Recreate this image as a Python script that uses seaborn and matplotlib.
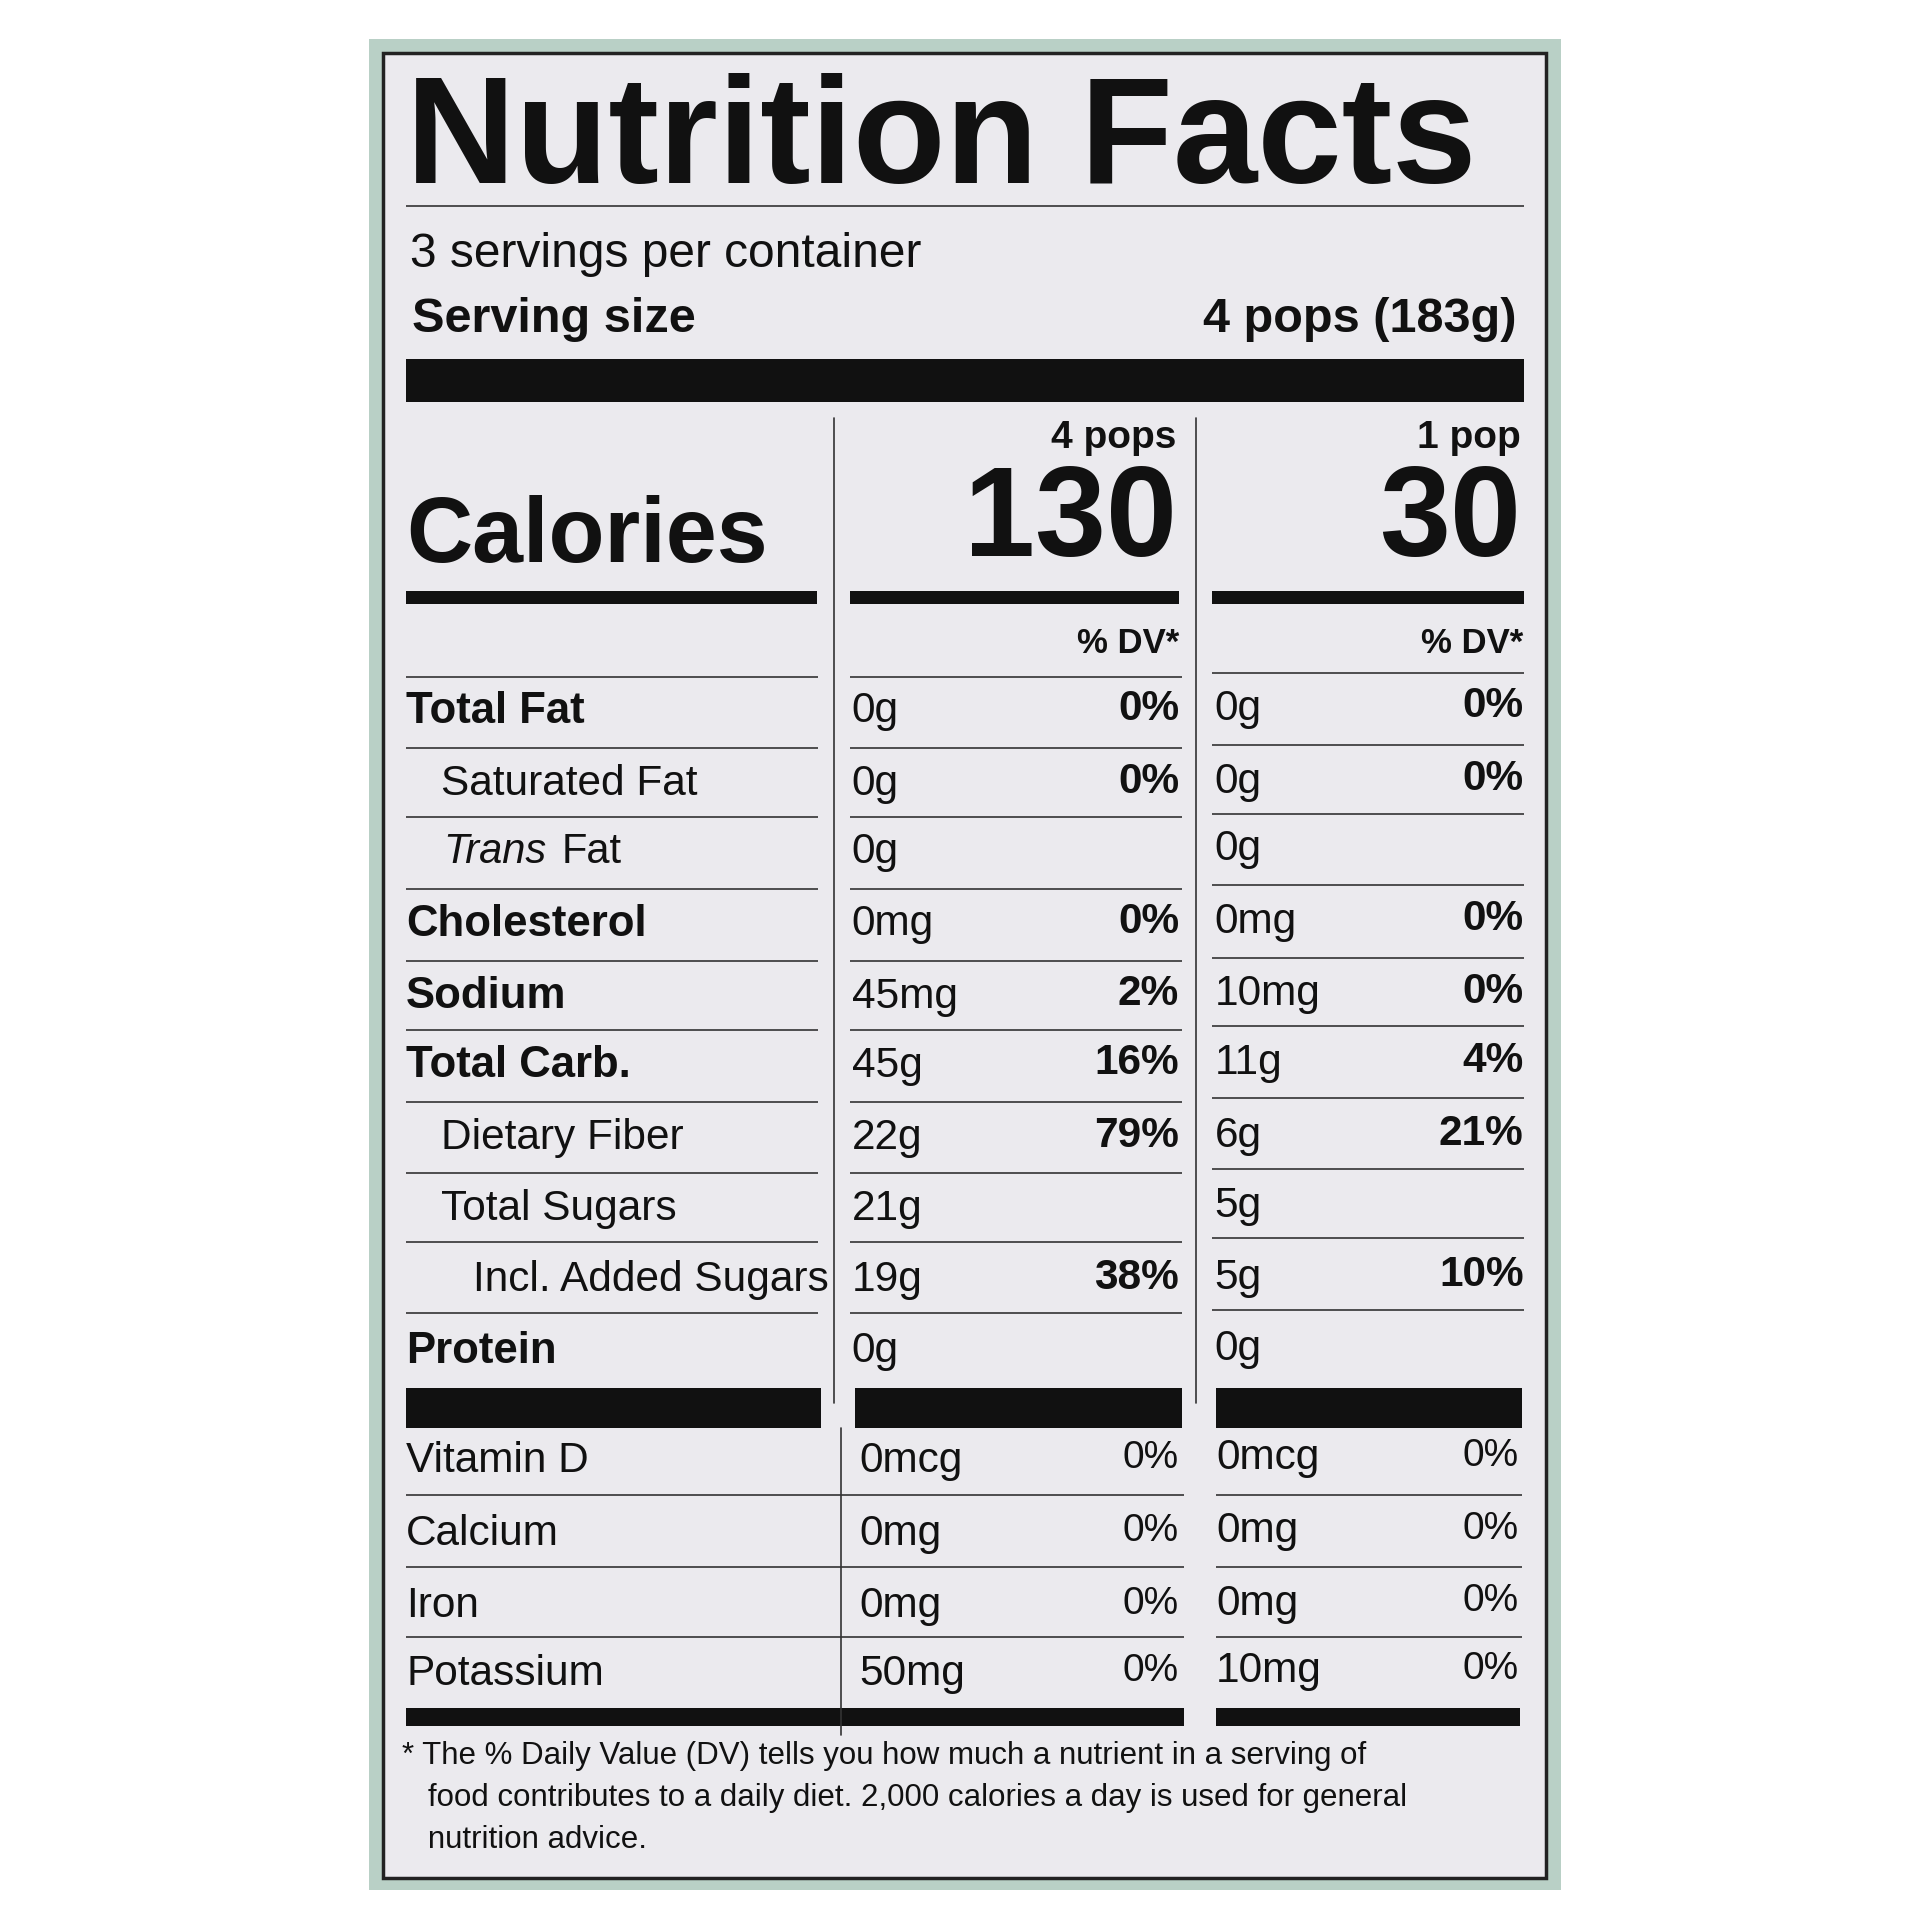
import matplotlib
matplotlib.use("Agg")
import matplotlib.pyplot as plt
import seaborn as sns

sns.set_theme(style="white")
plt.rcParams['font.family'] = ['Liberation Sans', 'DejaVu Sans']

# label data
servings_text = "3 servings per container"
serving_size = "4 pops (183g)"
col_heads = ["4 pops", "1 pop"]
calories = ["130", "30"]

nutrients = ["Total Fat", "Saturated Fat", "Trans Fat", "Cholesterol", "Sodium",
             "Total Carb.", "Dietary Fiber", "Total Sugars", "Incl. Added Sugars", "Protein"]
indent = [0, 1, 1, 0, 0, 0, 1, 1, 2, 0]
bold = [True, False, False, True, True, True, False, False, False, True]
amt_4 = ["0g", "0g", "0g", "0mg", "45mg", "45g", "22g", "21g", "19g", "0g"]
dv_4 = ["0%", "0%", "", "0%", "2%", "16%", "79%", "", "38%", ""]
amt_1 = ["0g", "0g", "0g", "0mg", "10mg", "11g", "6g", "5g", "5g", "0g"]
dv_1 = ["0%", "0%", "", "0%", "0%", "4%", "21%", "", "10%", ""]

vitamins = ["Vitamin D", "Calcium", "Iron", "Potassium"]
vit_amt_4 = ["0mcg", "0mg", "0mg", "50mg"]
vit_dv_4 = ["0%", "0%", "0%", "0%"]
vit_amt_1 = ["0mcg", "0mg", "0mg", "10mg"]
vit_dv_1 = ["0%", "0%", "0%", "0%"]

footnote = ["* The % Daily Value (DV) tells you how much a nutrient in a serving of",
            "   food contributes to a daily diet. 2,000 calories a day is used for general",
            "   nutrition advice."]

INK = "#111111"
fig = plt.figure(figsize=(19.2, 19.2), dpi=100)
fig.patch.set_facecolor("white")
ax = fig.add_axes([0, 0, 1, 1])
ax.set_xlim(0, 1560)
ax.set_ylim(1560, 0)
ax.axis("off")


def rect(x0, y0, x1, y1, fc, ec="none", lw=0):
    ax.add_patch(plt.Rectangle((x0, y0), x1 - x0, y1 - y0, facecolor=fc, edgecolor=ec, lw=lw))


def hline(x0, x1, y, lw=1.2):
    ax.plot([x0, x1], [y, y], color="#333333", lw=lw, solid_capstyle="butt")


def txt(x, y, s, size, weight="normal", ha="left", style="normal"):
    return ax.text(x, y, s, fontsize=size, fontweight=weight, ha=ha, va="center",
                   color=INK, style=style)


rect(300, 32, 1268, 1536, "#b9d0c6")
rect(311, 43, 1256, 1526, "#ebeaee", ec="#222222", lw=2.5)

# title, fitted to its width
t = txt(330, 117, "Nutrition Facts", 90, weight="bold")
fig.canvas.draw()
bb = t.get_window_extent()
t.set_fontsize(90 * (1200 - 330) * 1920 / 1560 / bb.width)
hline(330, 1238, 167, lw=1.2)

txt(333, 207, servings_text, 34.5)
txt(335, 260, "Serving size", 35, weight="bold")
txt(1232, 260, serving_size, 35, weight="bold", ha="right")
rect(330, 292, 1238, 327, INK)

# column dividers
ax.plot([678, 678], [340, 1140], color="#333333", lw=1.2)
ax.plot([972, 972], [340, 1140], color="#333333", lw=1.2)
ax.plot([683, 683], [1160, 1410], color="#333333", lw=1.2)

cols = [(692, 958), (987, 1238)]
for (xl, xr), head, cal in zip(cols, col_heads, calories):
    txt(xr - 2, 356, head, 28, weight="bold", ha="right")
    txt(xr - 2, 425, cal, 92, weight="bold", ha="right")
    txt(xr, 523, "% DV*", 25, weight="bold", ha="right")
txt(330, 437, "Calories", 66, weight="bold")
rect(330, 480, 664, 491, INK)
rect(691, 480, 958, 491, INK)
rect(985, 480, 1238, 491, INK)

row_y = [578, 637, 692, 751, 810, 866, 925, 982, 1040, 1098]
line_y = [550, 608, 664, 722, 781, 837, 895, 953, 1009, 1067]
for y in line_y:
    hline(330, 665, y)
    hline(691, 960, y)
    hline(985, 1238, y - 3)

for i, name in enumerate(nutrients):
    y = row_y[i]
    x = 330 + [0, 28, 54][indent[i]]
    if name == "Trans Fat":
        txt(x + 2, y, "Trans", 30, style="italic")
        txt(x + 98, y, "Fat", 30)
    elif bold[i]:
        txt(x, y, name, 31.5, weight="bold")
    else:
        txt(x, y, name, 30.5)
    txt(692, y, amt_4[i], 30.5)
    txt(958, y - 2, dv_4[i], 30.5, weight="bold", ha="right")
    txt(987, y - 2, amt_1[i], 30.5)
    txt(1238, y - 4, dv_1[i], 30.5, weight="bold", ha="right")

rect(330, 1128, 667, 1160, INK)
rect(695, 1128, 960, 1160, INK)
rect(988, 1128, 1237, 1160, INK)

vit_y = [1187, 1246, 1305, 1360]
for y in [1215, 1273, 1330]:
    hline(330, 962, y)
    hline(988, 1237, y)
for i, name in enumerate(vitamins):
    y = vit_y[i]
    txt(330, y, name, 30.5)
    txt(698, y, vit_amt_4[i], 30.5)
    txt(958, y - 2, vit_dv_4[i], 28, ha="right")
    txt(988, y - 2, vit_amt_1[i], 30.5)
    txt(1234, y - 4, vit_dv_1[i], 28, ha="right")
rect(330, 1388, 962, 1402, INK)
rect(988, 1388, 1235, 1402, INK)

for i, line in enumerate(footnote):
    txt(327, 1427 + 34 * i, line, 22.5)

fig.savefig("out.png", dpi=100, facecolor="white")
plt.close(fig)
